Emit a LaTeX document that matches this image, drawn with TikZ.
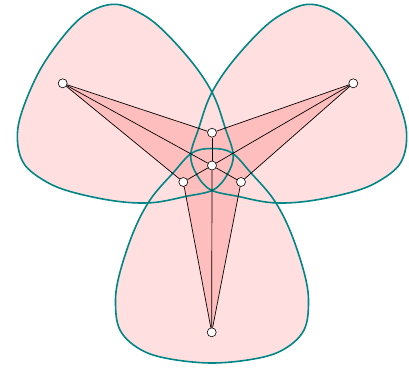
\documentclass[tikz,border=0pt]{standalone}
\definecolor{blobfill}{RGB}{255,223,223}
\definecolor{kitefill}{RGB}{255,190,190}
\definecolor{blobline}{RGB}{0,134,134}
\begin{document}
\begin{tikzpicture}[x=1pt,y=-1pt,
  vtx/.style={circle,draw=black,fill=white,line width=0.6pt,inner sep=0pt,minimum size=9pt},
  edge/.style={draw=black,line width=0.7pt},
  kite/.style={fill=kitefill},
  blobfillst/.style={fill=blobfill},
  bloblinest/.style={draw=blobline,line width=1.6pt}]
\useasboundingbox (0,0) rectangle (409,368);
\def\blob{plot[smooth cycle,tension=0.6] coordinates {(0,-17.5) (20,-13) (39,7) (62,34) (79,67) (93,110) (96.5,138) (92,164) (74,182) (47,192) (0,197) (-47,192) (-74,182) (-92,164) (-96.5,138) (-93,110) (-79,67) (-62,34) (-39,7) (-20,-13)}}
% blob fills
\foreach \r in {0,120,240}{
  \begin{scope}[shift={(212,166)},rotate=\r]
    \path[blobfillst] \blob;
  \end{scope}
}
% vertex coordinates
\coordinate (pL) at (62.7,83.3);
\coordinate (pR) at (353.3,83.3);
\coordinate (pB) at (211.7,332.3);
\coordinate (pT) at (212,132.7);
\coordinate (pC) at (212,165.5);
\coordinate (pLL) at (183.3,182);
\coordinate (pLR) at (241,182);
% kites
\path[kite] (pL) -- (pT) -- (pC) -- (pLL) -- cycle;
\path[kite] (pR) -- (pT) -- (pC) -- (pLR) -- cycle;
\path[kite] (pB) -- (pLL) -- (pC) -- (pLR) -- cycle;
% blob outlines
\foreach \r in {0,120,240}{
  \begin{scope}[shift={(212,166)},rotate=\r]
    \path[bloblinest] \blob;
  \end{scope}
}
% nodes
\node[vtx] (L) at (pL) {};
\node[vtx] (R) at (pR) {};
\node[vtx] (B) at (pB) {};
\node[vtx] (T) at (pT) {};
\node[vtx] (C) at (pC) {};
\node[vtx] (LL) at (pLL) {};
\node[vtx] (LR) at (pLR) {};
% edges
\foreach \a/\b in {L/T,L/C,L/LL,R/T,R/C,R/LR,B/LL,B/C,B/LR,C/T,C/LL,C/LR}{
  \path[edge] (\a) -- (\b);
}
\end{tikzpicture}
\end{document}
